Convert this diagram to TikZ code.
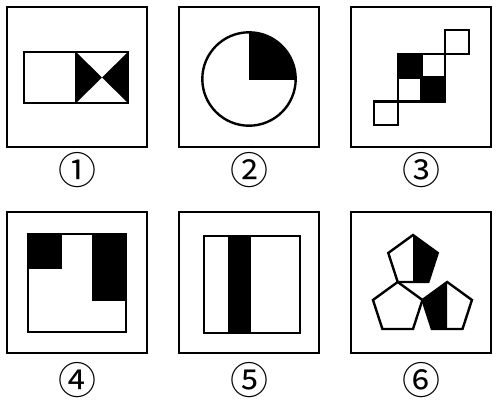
\documentclass[tikz,border=0pt]{standalone}
\usepackage{fontspec}
\newfontfamily\cjk{Noto Sans CJK SC}
\begin{document}
\begin{tikzpicture}[x=1pt,y=-1pt,
  frame/.style={line width=2.4pt},
  fig/.style={line width=2.4pt,line join=miter},
  num/.style={font=\cjk\fontsize{38}{38}\selectfont,inner sep=0pt}]
\useasboundingbox (0,0) rectangle (500,407);
% frames and labels
\foreach \x/\a/\b [count=\i] in {7/{①}/{④},179/{②}/{⑤},351/{③}/{⑥}}{
  \draw[frame] (\x,7) rectangle ++(140,140);
  \draw[frame] (\x,212) rectangle ++(140,141);
  \node[num] (top\i) at (\x+70,170) {\a};
  \node[num] (bot\i) at (\x+70,380) {\b};
}
% 1
\fill (76,52) -- (102,77.5) -- (76,103) -- cycle;
\fill (128,52) -- (102,77.5) -- (128,103) -- cycle;
\draw[fig] (24,52) rectangle (128,103);
\draw[fig] (76,52) -- (76,103);
% 2
\begin{scope}
  \clip (249,79) rectangle (300,25);
  \fill (249,79) circle (46.7);
\end{scope}
\draw[fig] (249,79) circle (46.7);
% 3
\foreach \i/\j/\c in {0/0/white,1/1/white,1/2/black,2/1/black,2/2/white,3/3/white}
  \draw[fig,fill=\c] (374+\i*23.7,125-\j*23.7) rectangle ++(23.7,-23.7);
% 4
\fill (28,234) rectangle (62,269);
\fill (92,234) rectangle (126,301);
\draw[fig] (28,234) rectangle (126,332);
% 5
\fill (228,236) rectangle (251,333);
\draw[fig] (204,236) rectangle (300,333);
% 6
\coordinate (pt) at (413,261);
\coordinate (pl) at (397.7,308);
\coordinate (pr) at (447.2,308);
\fill (pt) +(-90:26) -- +(-18:26) -- +(54:26) -- +(0,21.03) -- cycle;
\fill (pr) +(-90:26) -- +(198:26) -- +(126:26) -- +(0,21.03) -- cycle;
\foreach \p in {pt,pl,pr}
  \draw[fig] (\p) +(-90:26) -- +(-18:26) -- +(54:26) -- +(126:26) -- +(198:26) -- cycle;
\end{tikzpicture}
\end{document}
